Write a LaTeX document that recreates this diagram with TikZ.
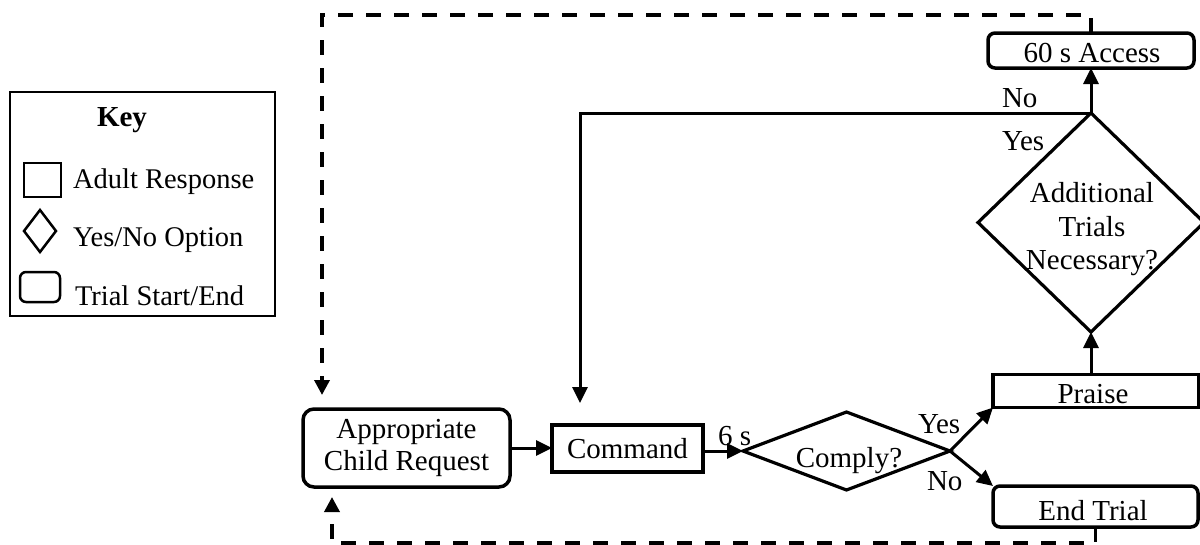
\documentclass[tikz,border=0pt]{standalone}
\usepackage{fontspec}
\setmainfont{Liberation Serif}
\usetikzlibrary{arrows.meta,shapes.geometric}
\begin{document}
\begin{tikzpicture}[x=1pt,y=-1pt,
  every node/.style={font=\fontsize{29}{34}\selectfont, inner sep=0pt, outer sep=0pt},
  boxnode/.style={draw, line width=3.5pt, align=center},
  roundnode/.style={boxnode, rounded corners=7pt},
  dianode/.style={draw, diamond, line width=3.2pt, inner sep=0pt},
  arr/.style={line width=3pt, -{Triangle[length=16pt,width=15pt]}},
  dashline/.style={line width=3.5pt, dash pattern=on 15pt off 13pt, -{Triangle[length=15pt,width=15pt]}},
  lbl/.style={anchor=base west},
  keytext/.style={anchor=base west, font=\fontsize{28.5}{33}\selectfont},
  keyicon/.style={line width=2.5pt}
]
\useasboundingbox (0,0) rectangle (1200,544);

% ---------- Key ----------
\node[draw, line width=2.5pt, minimum width=265pt, minimum height=224pt, anchor=north west] (keybox) at (10,92) {};
\node[font=\fontsize{29}{33}\selectfont\bfseries, anchor=base] (keytitle) at (122,126) {Key};
\node[draw, keyicon, minimum width=37pt, minimum height=34pt, anchor=north west] (keysq) at (24,163) {};
\node[keytext] (keyadult) at (73,188) {Adult Response};
\node[draw, diamond, keyicon, minimum width=32pt, minimum height=42pt] (keydia) at (40,231) {};
\node[keytext] (keyyesno) at (73,246) {Yes/No Option};
\node[draw, keyicon, rounded corners=6pt, minimum width=40pt, minimum height=30pt, anchor=north west] (keyround) at (20,272) {};
\node[keytext] (keytrial) at (75,305) {Trial Start/End};

% ---------- Main nodes ----------
\node[roundnode, rounded corners=11pt, minimum width=207pt, minimum height=78pt] (req) at (406.5,448) {Appropriate\\[-2pt]Child Request};
\node[boxnode, minimum width=151pt, minimum height=47pt] (cmd) at (627.5,448.5) {Command};
\node[dianode, minimum width=207pt, minimum height=78pt] (comply) at (846.5,451) {};
\node[anchor=base] (complytxt) at (849,467) {Comply?};
\node[boxnode, minimum width=206pt, minimum height=33pt] (praise) at (1096,391) {};
\node[anchor=base] (praisetxt) at (1093,403) {Praise};
\node[roundnode, minimum width=205pt, minimum height=41pt] (endt) at (1095.5,506.5) {};
\node[anchor=base] (endtxt) at (1093,520) {End Trial};
\node[roundnode, minimum width=206pt, minimum height=35pt] (access) at (1091,50.5) {};
\node[anchor=base] (accesstxt) at (1092,62) {60 s Access};
\node[dianode, minimum width=226pt, minimum height=219pt] (add) at (1091,222.5) {};
\node[anchor=base] (addtxt1) at (1092,202) {Additional};
\node[anchor=base] (addtxt2) at (1092,236) {Trials};
\node[anchor=base] (addtxt3) at (1092,269) {Necessary?};

% free ends
\coordinate (cmdin) at (580,403);
\coordinate (reqin) at (322,395);
\coordinate (reqbot) at (332,497);

% ---------- Connectors ----------
\draw[arr] (req.east) -- (req.east -| cmd.west);
\draw[arr] (cmd.east |- comply.west) -- (comply.west);
\draw[arr] (comply.east) -- (praise.south west);
\draw[arr] (comply.east) -- (endt.north west);
\draw[arr] (add.south |- praise.north) -- (add.south);
\draw[arr] (add.north) -- (add.north |- access.south);
\draw[arr] (add.north) -- (cmdin |- add.north) -- (cmdin);
\draw[dashline] (access.north) -- (access.north |- 0,15) -| (reqin);
\draw[dashline] (endt.south) -- (endt.south |- 0,543) -| (reqbot);

% ---------- Labels ----------
\node[lbl] (lno1) at (1002,107) {No};
\node[lbl] (lyes1) at (1002,150) {Yes};
\node[lbl] (l6s) at (718,445) {6 s};
\node[lbl] (lyes2) at (918,433) {Yes};
\node[lbl] (lno2) at (927,490) {No};
\end{tikzpicture}
\end{document}
